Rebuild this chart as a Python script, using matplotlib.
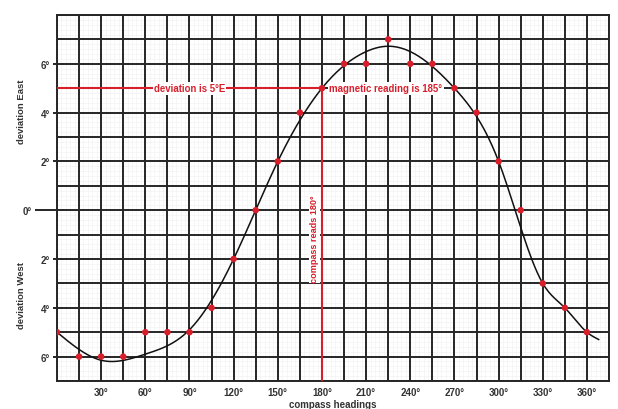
import numpy as np
import matplotlib
matplotlib.use('Agg')
import matplotlib.pyplot as plt
from matplotlib.ticker import MultipleLocator, FixedLocator

plt.rcParams['font.family'] = ['Liberation Sans', 'DejaVu Sans']

# ---- data ----
headings = [0, 15, 30, 45, 60, 75, 90, 105, 120, 135, 150, 165, 180,
            195, 210, 225, 240, 255, 270, 285, 300, 315, 330, 345, 360]
deviation = [-5, -6, -6, -6, -5, -5, -5, -4, -2, 0, 2, 4, 5,
             6, 6, 7, 6, 6, 5, 4, 2, 0, -3, -4, -5]
# hand-drawn deviation curve
curve_headings = [0, 30, 60, 90, 120, 150, 180, 210, 225, 240, 270, 300, 330, 345, 360, 368]
curve_values = [-5.0, -6.15, -5.9, -4.9, -2.0, 2.0, 5.0, 6.5, 6.72, 6.5, 5.0, 2.0, -3.0,
                -4.0, -5.0, -5.3]
xtick_values = [30, 60, 90, 120, 150, 180, 210, 240, 270, 300, 330, 360]
xtick_labels = ['30°', '60°', '90°', '120°', '150°', '180°', '210°',
                '240°', '270°', '300°', '330°', '360°']
ytick_values = [6, 4, 2, 0, -2, -4, -6]
ytick_labels = ['6°', '4°', '2°', '0°', '2°', '4°', '6°']
compass_heading = 180
deviation_reading = 5
magnetic_heading = 185

RED = '#d81e2b'
GRID = '#262626'
TXT = '#333333'


def smooth_line(x, y, xq):
    """natural cubic spline used only to render the curve smoothly"""
    x = np.asarray(x, float)
    y = np.asarray(y, float)
    n = len(x)
    h = np.diff(x)
    A = np.zeros((n, n))
    r = np.zeros(n)
    A[0, 0] = A[-1, -1] = 1.0
    for i in range(1, n - 1):
        A[i, i - 1] = h[i - 1]
        A[i, i] = 2 * (h[i - 1] + h[i])
        A[i, i + 1] = h[i]
        r[i] = 6 * ((y[i + 1] - y[i]) / h[i] - (y[i] - y[i - 1]) / h[i - 1])
    M = np.linalg.solve(A, r)
    idx = np.clip(np.searchsorted(x, xq) - 1, 0, n - 2)
    x0, x1 = x[idx], x[idx + 1]
    hh = x1 - x0
    return (M[idx] * (x1 - xq) ** 3 / (6 * hh) + M[idx + 1] * (xq - x0) ** 3 / (6 * hh)
            + (y[idx] / hh - M[idx] * hh / 6) * (x1 - xq)
            + (y[idx + 1] / hh - M[idx + 1] * hh / 6) * (xq - x0))


xs = np.linspace(curve_headings[0], curve_headings[-1], 600)
ys = smooth_line(curve_headings, curve_values, xs)

fig = plt.figure(figsize=(6.18, 4.10), dpi=100)
ax = fig.add_axes([57 / 618, 1 - 382 / 410, 552 / 618, 366 / 410])
ax.set_xlim(0, 375)
ax.set_ylim(-7, 8)

# grid
ax.xaxis.set_major_locator(FixedLocator(xtick_values))
ax.xaxis.set_minor_locator(MultipleLocator(15))
ax.yaxis.set_major_locator(FixedLocator(ytick_values))
ax.yaxis.set_minor_locator(MultipleLocator(1))
ax.set_xticklabels(xtick_labels)
ax.set_yticklabels(ytick_labels)
ax.grid(which='both', color=GRID, linewidth=1.4)
ax.set_axisbelow(True)
for s in ax.spines.values():
    s.set_color(GRID)
    s.set_linewidth(1.4)

# very faint graph-paper texture
for v in np.arange(3, 375, 3):
    if v % 15:
        ax.axvline(v, color='#f3f3f3', lw=0.5, zorder=0.2)
for v in np.arange(-7, 8, 0.2):
    if abs(v - round(v)) > 1e-6:
        ax.axhline(v, color='#f3f3f3', lw=0.5, zorder=0.2)

ax.tick_params(axis='x', which='both', length=0, pad=4, labelsize=7, labelcolor=TXT)
ax.tick_params(axis='y', which='major', length=3, width=1.4, color=GRID, pad=2,
               labelsize=7, labelcolor=TXT)
ax.tick_params(axis='y', which='minor', length=0)
for lab in ax.get_xticklabels() + ax.get_yticklabels():
    lab.set_fontweight('bold')
# longer tick for 0°
for t in ax.yaxis.get_major_ticks():
    if t.get_loc() == 0:
        t._apply_params(size=16)

# curve and points
ax.plot(xs, ys, color='#111111', lw=1.1, zorder=3)
ax.scatter(headings, deviation, s=22, color=RED, zorder=6, edgecolor='none')

# red construction lines
ax.plot([0, compass_heading], [deviation_reading, deviation_reading], color=RED, lw=1.5, zorder=4)
ax.plot([compass_heading, compass_heading], [-7, deviation_reading], color=RED, lw=1.5, zorder=4)

box = dict(facecolor='white', edgecolor='none', pad=1.0)
ax.text(90, deviation_reading, 'deviation is 5°E', color=RED, fontsize=6.9, fontweight='bold',
        ha='center', va='center', bbox=box, zorder=5)
ax.text(magnetic_heading, deviation_reading, 'magnetic reading is 185°', color=RED, fontsize=6.9,
        fontweight='bold', ha='left', va='center', bbox=box, zorder=5)
ax.text(175, -1.15, 'compass reads 180°', color=RED, fontsize=6.6, fontweight='bold',
        ha='center', va='center', rotation=90, bbox=box, zorder=5)

# axis labels
fig.text(22 / 618, 1 - 112 / 410, 'deviation East', rotation=90, ha='center', va='center',
         fontsize=6.8, fontweight='bold', color=TXT)
fig.text(22 / 618, 1 - 296 / 410, 'deviation West', rotation=90, ha='center', va='center',
         fontsize=6.8, fontweight='bold', color=TXT)
ax.set_xlabel('compass headings', fontsize=7, fontweight='bold', color=TXT, labelpad=2)

fig.savefig('out.png', dpi=100, facecolor='white')
